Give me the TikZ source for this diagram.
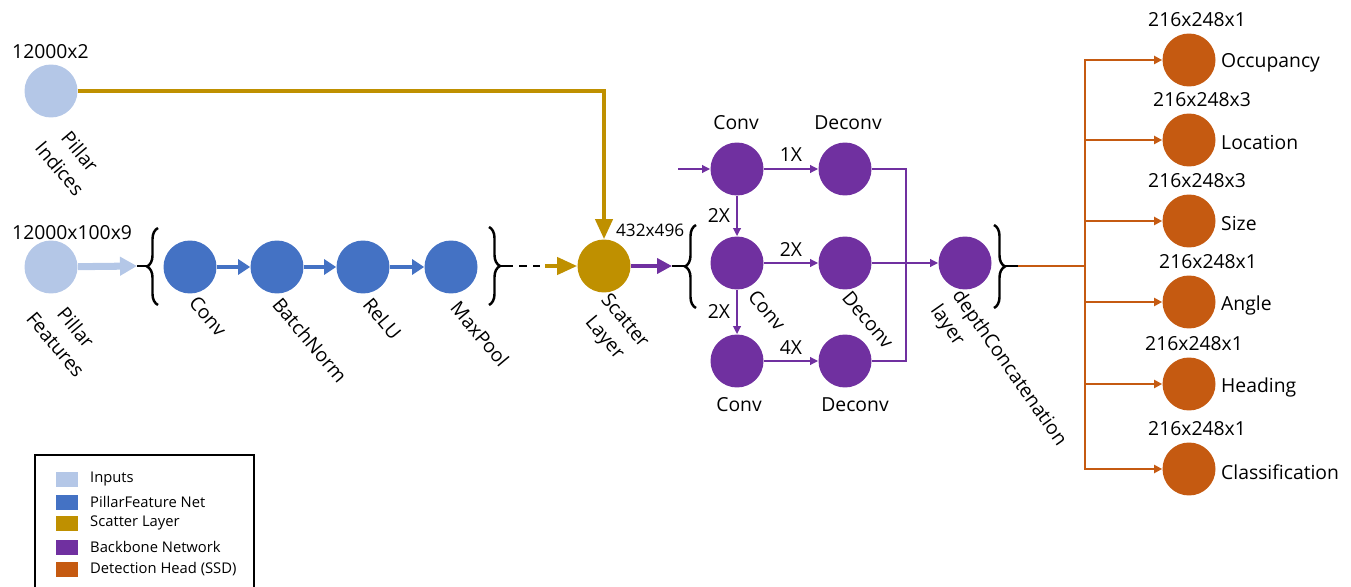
\documentclass[tikz,border=0pt]{standalone}
\usepackage{fontspec}
\setmainfont{Open Sans}
\usepackage{tikz}
\usetikzlibrary{arrows.meta,decorations.pathreplacing,calc}
\definecolor{inblue}{RGB}{180,199,231}
\definecolor{pfnblue}{RGB}{68,114,196}
\definecolor{scgold}{RGB}{191,144,0}
\definecolor{bbpurple}{RGB}{112,48,160}
\definecolor{hdorange}{RGB}{197,90,17}

\begin{document}
\begin{tikzpicture}[
    x=0.02cm, y=-0.02cm,
    font=\fontsize{11}{15}\selectfont,
    unit/.style={circle, minimum size=1.06cm, inner sep=0pt},
    tag/.style={rotate=-50, align=center},
    brc/.style={decorate, decoration={brace, amplitude=0.22cm}, line width=1.4pt, draw=black},
    stub/.style={line width=1.6pt, draw=black},
    inarrow/.style={-{Triangle[length=0.34cm,width=0.36cm]}, line width=4pt, draw=inblue},
    pfnarrow/.style={-{Triangle[length=0.24cm,width=0.3cm]}, line width=2.6pt, draw=pfnblue},
    goldarrow/.style={-{Triangle[length=0.4cm,width=0.34cm]}, line width=2.3pt, draw=scgold},
    thickpurple/.style={-{Triangle[length=0.3cm,width=0.3cm]}, line width=2.6pt, draw=bbpurple},
    bbline/.style={line width=1.3pt, draw=bbpurple},
    bbarrow/.style={bbline, -{Triangle[length=0.16cm,width=0.15cm]}},
    hdarrow/.style={-{Triangle[length=0.16cm,width=0.16cm]}, line width=1.5pt, draw=hdorange},
    swatch/.style={rectangle, minimum width=0.46cm, minimum height=0.32cm, inner sep=0pt, draw=white, line width=0.4pt},
    legtxt/.style={anchor=west, font=\fontsize{8.4}{9}\selectfont}
]
\useasboundingbox (0,0) rectangle (1351,587);

% inputs
\node[unit, fill=inblue] (pi1) at (51,91) {};
\node[unit, fill=inblue] (pi2) at (51,267) {};
\node[anchor=west] (dim1) at (6,52) {12000x2};
\node[anchor=west] (dim2) at (6,233) {12000x100x9};
\node[tag] (pi1lbl) at (70,160) {Pillar\\Indices};
\node[tag] (pi2lbl) at (66,336) {Pillar\\Features};

% pillar feature net
\node[unit, fill=pfnblue] (conv) at (190,267) {};
\node[unit, fill=pfnblue] (bn) at (277,267) {};
\node[unit, fill=pfnblue] (relu) at (363,267) {};
\node[unit, fill=pfnblue] (pool) at (451,267) {};
\node[tag] (convlbl) at (208,316) {Conv};
\node[tag] (bnlbl) at (310,340) {BatchNorm};
\node[tag] (relulbl) at (382,319) {ReLU};
\node[tag] (poollbl) at (480,334) {MaxPool};

% scatter layer
\node[unit, fill=scgold] (scatter) at (604,266) {};
\node[tag] (scatterlbl) at (614,330) {Scatter\\Layer};
\node[anchor=west, font=\fontsize{9.8}{12}\selectfont, inner sep=1pt] (scdim) at (614,230) {432x496};

% backbone
\node[unit, fill=bbpurple] (conv1) at (737,169) {};
\node[unit, fill=bbpurple] (deconv1) at (845,169) {};
\node[unit, fill=bbpurple] (conv2) at (737,263) {};
\node[unit, fill=bbpurple] (deconv2) at (845,263) {};
\node[unit, fill=bbpurple] (conv3) at (737,361) {};
\node[unit, fill=bbpurple] (deconv3) at (845,361) {};
\node[unit, fill=bbpurple] (concat) at (965,263) {};
\node (conv1lbl) at (736,123) {Conv};
\node (deconv1lbl) at (848,123) {Deconv};
\node[tag] (conv2lbl) at (767,310) {Conv};
\node[tag] (deconv2lbl) at (868,320) {Deconv};
\node (conv3lbl) at (739,405) {Conv};
\node (deconv3lbl) at (855,405) {Deconv};
\node[rotate=-55, align=left] (concatlbl) at (998,376) {depthConcatenation\\layer};

% braces
\draw[brc] (158,305) -- (158,228);
\draw[brc] (489,227) -- (489,305);
\draw[brc] (696,308) -- (696,225);
\draw[brc] (994,225) -- (994,308);
\coordinate (b1) at (137,266);
\coordinate (b1tip) at (147,266);
\coordinate (b2tip) at (500,266);
\coordinate (dashend) at (545,266);
\coordinate (b3) at (672,266);
\coordinate (b3tip) at (685,266);
\coordinate (b4tip) at (1005,266);
\coordinate (b4) at (1018,266);
\coordinate (bbin) at (678,169);
\coordinate (mrg) at (906,263);
\coordinate (split) at (1085,266);

% connectors
\draw[stub] (b1) -- (b1tip);
\draw[inarrow] (pi2) -- (b1);
\draw[pfnarrow] (conv) -- (bn);
\draw[pfnarrow] (bn) -- (relu);
\draw[pfnarrow] (relu) -- (pool);
\draw[stub, dash pattern=on 0.26cm off 0.12cm on 0.16cm off 0.12cm on 0.14cm off 0.2cm] (b2tip) -- (dashend);
\draw[goldarrow] (dashend) -- (scatter);
\draw[goldarrow] (pi1) -| (scatter);
\draw[thickpurple] (scatter) -- (b3);
\draw[stub] (b3) -- (b3tip);
\draw[bbarrow] (bbin) -- (conv1);
\draw[bbarrow] (conv1) -- node[above] (x1) {1X} (deconv1);
\draw[bbarrow] (conv1) -- node[left] (x2a) {2X} (conv2);
\draw[bbarrow] (conv2) -- node[above] (x2b) {2X} (deconv2);
\draw[bbarrow] (conv2) -- node[left] (x2c) {2X} (conv3);
\draw[bbarrow] (conv3) -- node[above] (x4) {4X} (deconv3);
\draw[bbline] (deconv1.east) -| (mrg) |- (deconv3.east);
\draw[bbarrow] (deconv2) -- (concat);
\draw[stub] (b4tip) -- (b4);
\draw[hdarrow, -] (b4) -- (split);

% detection head
\foreach \y/\dm/\nm/\dx [count=\i] in {60/216x248x1/Occupancy/8, 140/216x248x3/Location/13,
    221/216x248x3/Size/8, 302/216x248x1/Angle/19, 384/216x248x1/Heading/5,
    469/216x248x1/Classification/8} {
  \node[unit, fill=hdorange] (out\i) at (1189,\y) {};
  \node (outdim\i) at (1189+\dx,\y-40) {\dm};
  \node[anchor=west] (outlbl\i) at (1215,\y+3) {\nm};
  \draw[hdarrow] (split) |- (out\i);
}

% legend
\draw[line width=1.2pt] (35,587) |- (254,455) -- (254,587);
\foreach \y/\c/\t [count=\i] in {479/inblue/Inputs, 502/pfnblue/PillarFeature Net,
    523/scgold/Scatter Layer, 547/bbpurple/Backbone Network, 569/hdorange/Detection Head (SSD)} {
  \node[swatch, fill=\c] (sw\i) at (67,\y) {};
  \node[legtxt] (leg\i) at (84,\y) {\t};
}

\end{tikzpicture}
\end{document}
